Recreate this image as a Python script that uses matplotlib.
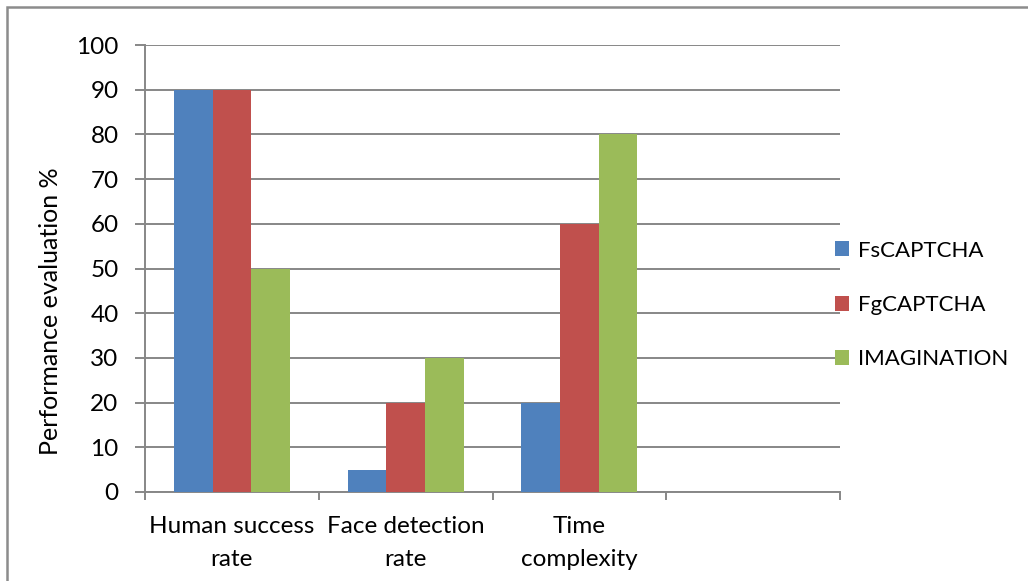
import matplotlib
matplotlib.use('Agg')
import matplotlib.pyplot as plt
import numpy as np
from matplotlib.patches import Rectangle

categories = ['Human success\nrate', 'Face detection\nrate', 'Time\ncomplexity', '']
series_names = ['FsCAPTCHA', 'FgCAPTCHA', 'IMAGINATION']
fs_values = [90, 5, 20]
fg_values = [90, 20, 60]
im_values = [50, 30, 80]
colors = ['#4F81BD', '#C0504D', '#9BBB59']

plt.rcParams['font.family'] = ['Lato', 'DejaVu Sans']

fig = plt.figure(figsize=(10.28, 5.81), dpi=100)
fig.patches.append(Rectangle((7 / 1028, -0.1), 2, 1.1 - 7 / 581, transform=fig.transFigure,
                             fill=False, edgecolor='#8c8c8c', linewidth=1.8, zorder=0))
ax = fig.add_axes([145 / 1028, 1 - 492 / 581, 695 / 1028, 447 / 581])

w = 1 / 4.5
x = np.arange(len(fs_values))
for i, (vals, name) in enumerate(zip([fs_values, fg_values, im_values], series_names)):
    ax.bar(x + (i - 1) * w, vals, w, color=colors[i], label=name, zorder=3)

ax.set_xlim(-0.5, len(categories) - 0.5)
ax.set_ylim(0, 100)
ax.set_yticks(range(0, 101, 10))
ax.yaxis.grid(True, color='#878787', linewidth=1.4, zorder=0)
ax.set_xticks(np.arange(len(categories) + 1) - 0.5)
ax.set_xticklabels([])
ax.set_xticks(np.arange(len(categories)), minor=True)
ax.set_xticklabels(categories, minor=True, fontsize=17.5, linespacing=1.7)
ax.tick_params(axis='x', which='minor', length=0, pad=17)
ax.tick_params(axis='x', which='major', length=6, width=1.4, color='#878787', direction='out')
ax.tick_params(axis='y', length=7, width=1.4, color='#878787', labelsize=17.5, pad=12)
for s in ['top', 'right']:
    ax.spines[s].set_visible(False)
for s in ['left', 'bottom']:
    ax.spines[s].set_color('#878787')
    ax.spines[s].set_linewidth(1.4)

ax.set_ylabel('Performance evaluation %', fontsize=18)
ax.yaxis.set_label_coords(-0.12, 0.405)

ax.legend(loc='center left', bbox_to_anchor=(815 / 1028, 1 - 305 / 581), bbox_transform=fig.transFigure,
          frameon=False, fontsize=16, handlelength=0.65, handleheight=0.65, handletextpad=0.4,
          labelspacing=1.55)

plt.savefig('out.png', dpi=100)
